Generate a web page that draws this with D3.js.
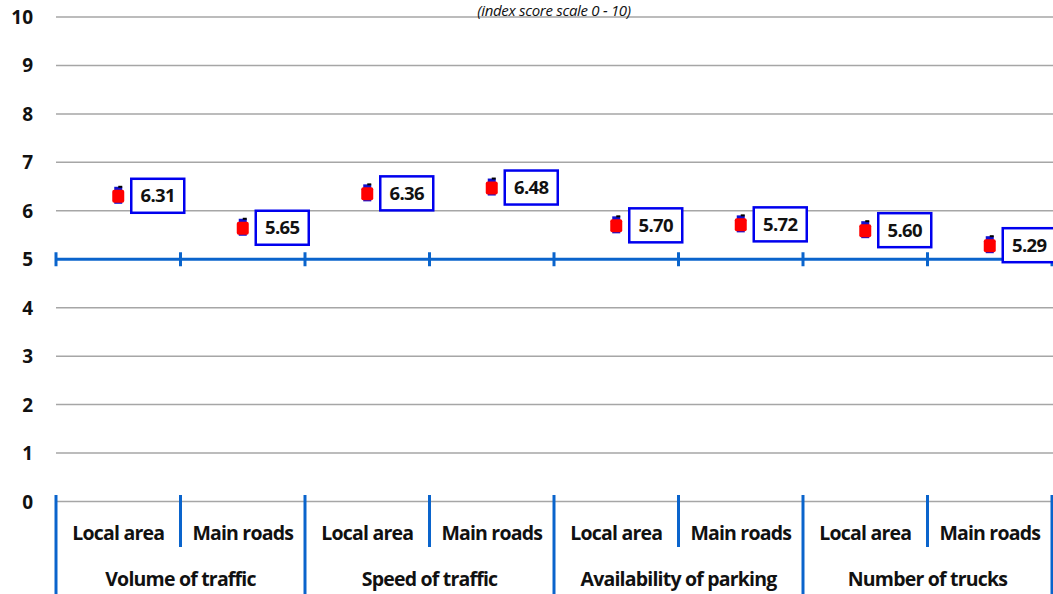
<!DOCTYPE html>
<html><head><meta charset="utf-8">
<script src="https://cdn.jsdelivr.net/npm/d3@7"></script>
<style>body{margin:0;background:#fff;overflow:hidden}svg{display:block;font-family:"Open Sans",Lato,sans-serif}</style>
</head><body><svg id="c" width="1053" height="594"></svg>
<script>
const groups = ["Volume of traffic","Speed of traffic","Availability of parking","Number of trucks"];
const subs = ["Local area","Main roads"];
const values = [6.31,5.65,6.36,6.48,5.70,5.72,5.60,5.29];
const yTicks = [0,1,2,3,4,5,6,7,8,9,10];
const reference = 5;
const title = "(index score scale 0 - 10)";

const svg = d3.select("#c");
const L = 56, R = 1052, T = 17, B = 501.5;
const cats = values.map((v,i)=>i);
const x = d3.scaleBand().domain(cats).range([L,R]).padding(0);
const y = d3.scaleLinear().domain([0,10]).range([B,T]);
const blue = "#0a64cc";

// grid
svg.append("g").selectAll("line").data(yTicks).join("line")
  .attr("x1",L).attr("x2",1053).attr("y1",d=>y(d)).attr("y2",d=>y(d))
  .attr("stroke","#a6a6a6").attr("stroke-width",1.5);

svg.append("text").attr("x",554).attr("y",15.5).attr("text-anchor","middle")
  .attr("font-style","italic").attr("font-size",15).attr("letter-spacing",-0.3).attr("fill","#111").text(title);

// y labels
svg.append("g").selectAll("text").data(yTicks).join("text")
  .attr("x",33).attr("y",d=>y(d)+7).attr("text-anchor","end")
  .attr("font-weight","bold").attr("font-size",19).attr("fill","#111").text(d=>d);

// reference line at 5
const ry = y(reference);
svg.append("line").attr("x1",L).attr("x2",1053).attr("y1",ry).attr("y2",ry)
  .attr("stroke",blue).attr("stroke-width",3);
svg.append("g").selectAll("line").data(d3.range(values.length+1)).join("line")
  .attr("x1",d=>L+d*x.bandwidth()).attr("x2",d=>L+d*x.bandwidth())
  .attr("y1",ry-7).attr("y2",ry+7).attr("stroke",blue).attr("stroke-width",3);

// category axis ticks
svg.append("g").selectAll("line").data(d3.range(values.length+1)).join("line")
  .attr("x1",d=>L+d*x.bandwidth()).attr("x2",d=>L+d*x.bandwidth())
  .attr("y1",495).attr("y2",d=>d%2===0?594:547).attr("stroke",blue).attr("stroke-width",3);
// sub labels
svg.append("g").selectAll("text").data(cats).join("text")
  .attr("x",d=>x(d)+x.bandwidth()/2).attr("y",539.5).attr("text-anchor","middle")
  .attr("font-weight","bold").attr("font-size",19.5).attr("letter-spacing",-0.8).attr("fill","#111")
  .text(d=>subs[d%2]);
// group labels
svg.append("g").selectAll("text").data(groups).join("text")
  .attr("x",(d,i)=>x(i*2)+x.bandwidth()).attr("y",585.5).attr("text-anchor","middle")
  .attr("font-weight","bold").attr("font-size",19.5).attr("letter-spacing",-0.8).attr("fill","#111").text(d=>d);

// markers
const m = svg.append("g").selectAll("g").data(values).join("g")
  .attr("transform",(d,i)=>`translate(${x(i)+x.bandwidth()/2},${y(d)})`);
m.append("rect").attr("x",-4).attr("y",-9).attr("width",8).attr("height",17).attr("fill","#1010d0");
m.append("line").attr("x1",0).attr("x2",4).attr("y1",-9).attr("y2",-9).attr("stroke","#000").attr("stroke-width",2);
m.append("rect").attr("x",-6).attr("y",-6).attr("width",12).attr("height",13).attr("rx",2).attr("fill","#ff0000");

// label boxes
const lb = svg.append("g").selectAll("g").data(values).join("g")
  .attr("transform",(d,i)=>`translate(${x(i)+x.bandwidth()/2+13},${y(d)})`);
lb.append("rect").attr("x",0).attr("y",-17).attr("width",53).attr("height",34)
  .attr("fill","#fff").attr("stroke","#0000ee").attr("stroke-width",2.5);
lb.append("text").attr("x",26.5).attr("y",6.5).attr("text-anchor","middle")
  .attr("font-weight","bold").attr("font-size",18.5).attr("letter-spacing",-0.6).attr("fill","#111").text(d=>d.toFixed(2));
</script></body></html>
